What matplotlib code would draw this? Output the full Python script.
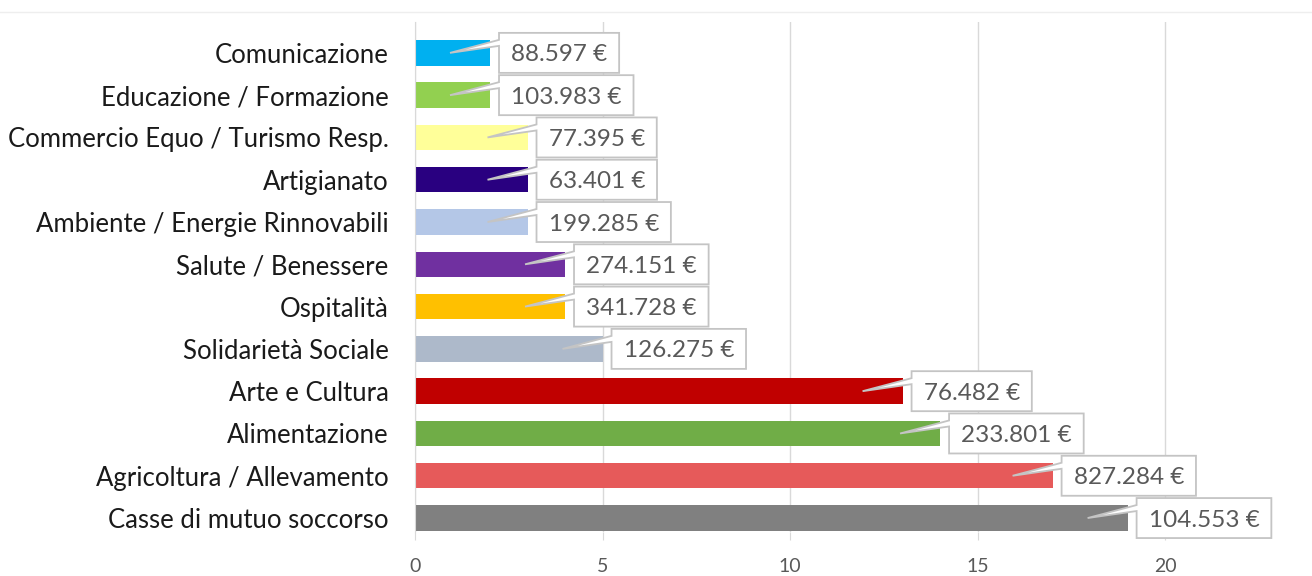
import matplotlib
matplotlib.use('Agg')
import matplotlib.pyplot as plt
from matplotlib.patches import Polygon
from matplotlib.transforms import IdentityTransform
from matplotlib.lines import Line2D

plt.rcParams['font.family'] = ['Lato', 'DejaVu Sans']

categories = [
    "Comunicazione",
    "Educazione / Formazione",
    "Commercio Equo / Turismo Resp.",
    "Artigianato",
    "Ambiente / Energie Rinnovabili",
    "Salute / Benessere",
    "Ospitalità",
    "Solidarietà Sociale",
    "Arte e Cultura",
    "Alimentazione",
    "Agricoltura / Allevamento",
    "Casse di mutuo soccorso",
]
counts = [2, 2, 3, 3, 3, 4, 4, 5, 13, 14, 17, 19]
amount_labels = [
    "88.597 €", "103.983 €", "77.395 €", "63.401 €", "199.285 €", "274.151 €",
    "341.728 €", "126.275 €", "76.482 €", "233.801 €", "827.284 €", "104.553 €",
]
colors = [
    "#00B0F0", "#92D050", "#FFFF99", "#290080", "#B4C7E7", "#7030A0",
    "#FFC000", "#ADB9CA", "#C00000", "#70AD47", "#E65A5A", "#808080",
]
x_ticks = [0, 5, 10, 15, 20]

W, H = 1312, 576
fig = plt.figure(figsize=(W / 100, H / 100), dpi=100)
fig.patch.set_facecolor('white')
ax = fig.add_axes([415 / W, 44 / H, 875 / W, 510 / H])
ypos = list(range(len(categories)))
ax.barh(ypos, counts, height=0.6, color=colors, zorder=2)
ax.set_ylim(11.33, -0.73)
ax.set_xlim(0, 23.33)
ax.set_xticks(x_ticks)
ax.set_yticks(ypos, categories)
ax.grid(axis='x', color='#d9d9d9', lw=1.0, zorder=0)
ax.set_axisbelow(True)
for s in ['top', 'right', 'bottom']:
    ax.spines[s].set_visible(False)
ax.spines['left'].set_color('#d9d9d9')
ax.tick_params(axis='y', length=0, pad=19, labelsize=18.5, labelcolor='#1a1a1a')
ax.tick_params(axis='x', length=6, color='#d9d9d9', pad=13, labelsize=14,
               labelcolor='#595959')

# faint top rule
fig.add_artist(Line2D([0, W], [H - 12, H - 12], transform=IdentityTransform(),
                      color='#eeeeee', lw=1.0))

fig.canvas.draw()
r = fig.canvas.get_renderer()
for y, v, lab in zip(ypos, counts, amount_labels):
    xe, yc = ax.transData.transform((v, y))
    t = fig.text(0, 0, lab, transform=IdentityTransform(), fontsize=17.5,
                 color='#595959', ha='center', va='baseline', zorder=5)
    w = t.get_window_extent(r).width
    L = xe + 9
    R = L + w + 24
    T = yc + 20
    B = yc - 20
    y1 = T - 7
    y2 = T - 13
    tip = (xe - 40, yc)
    poly = Polygon([(L, T), (R, T), (R, B), (L, B), (L, y2), tip, (L, y1)],
                   closed=True, transform=IdentityTransform(), facecolor='white',
                   edgecolor='#c4c4c4', lw=1.3, zorder=4)
    fig.add_artist(poly)
    t.set_position(((L + R) / 2, yc - 8.5))

fig.savefig('out.png', dpi=100)
